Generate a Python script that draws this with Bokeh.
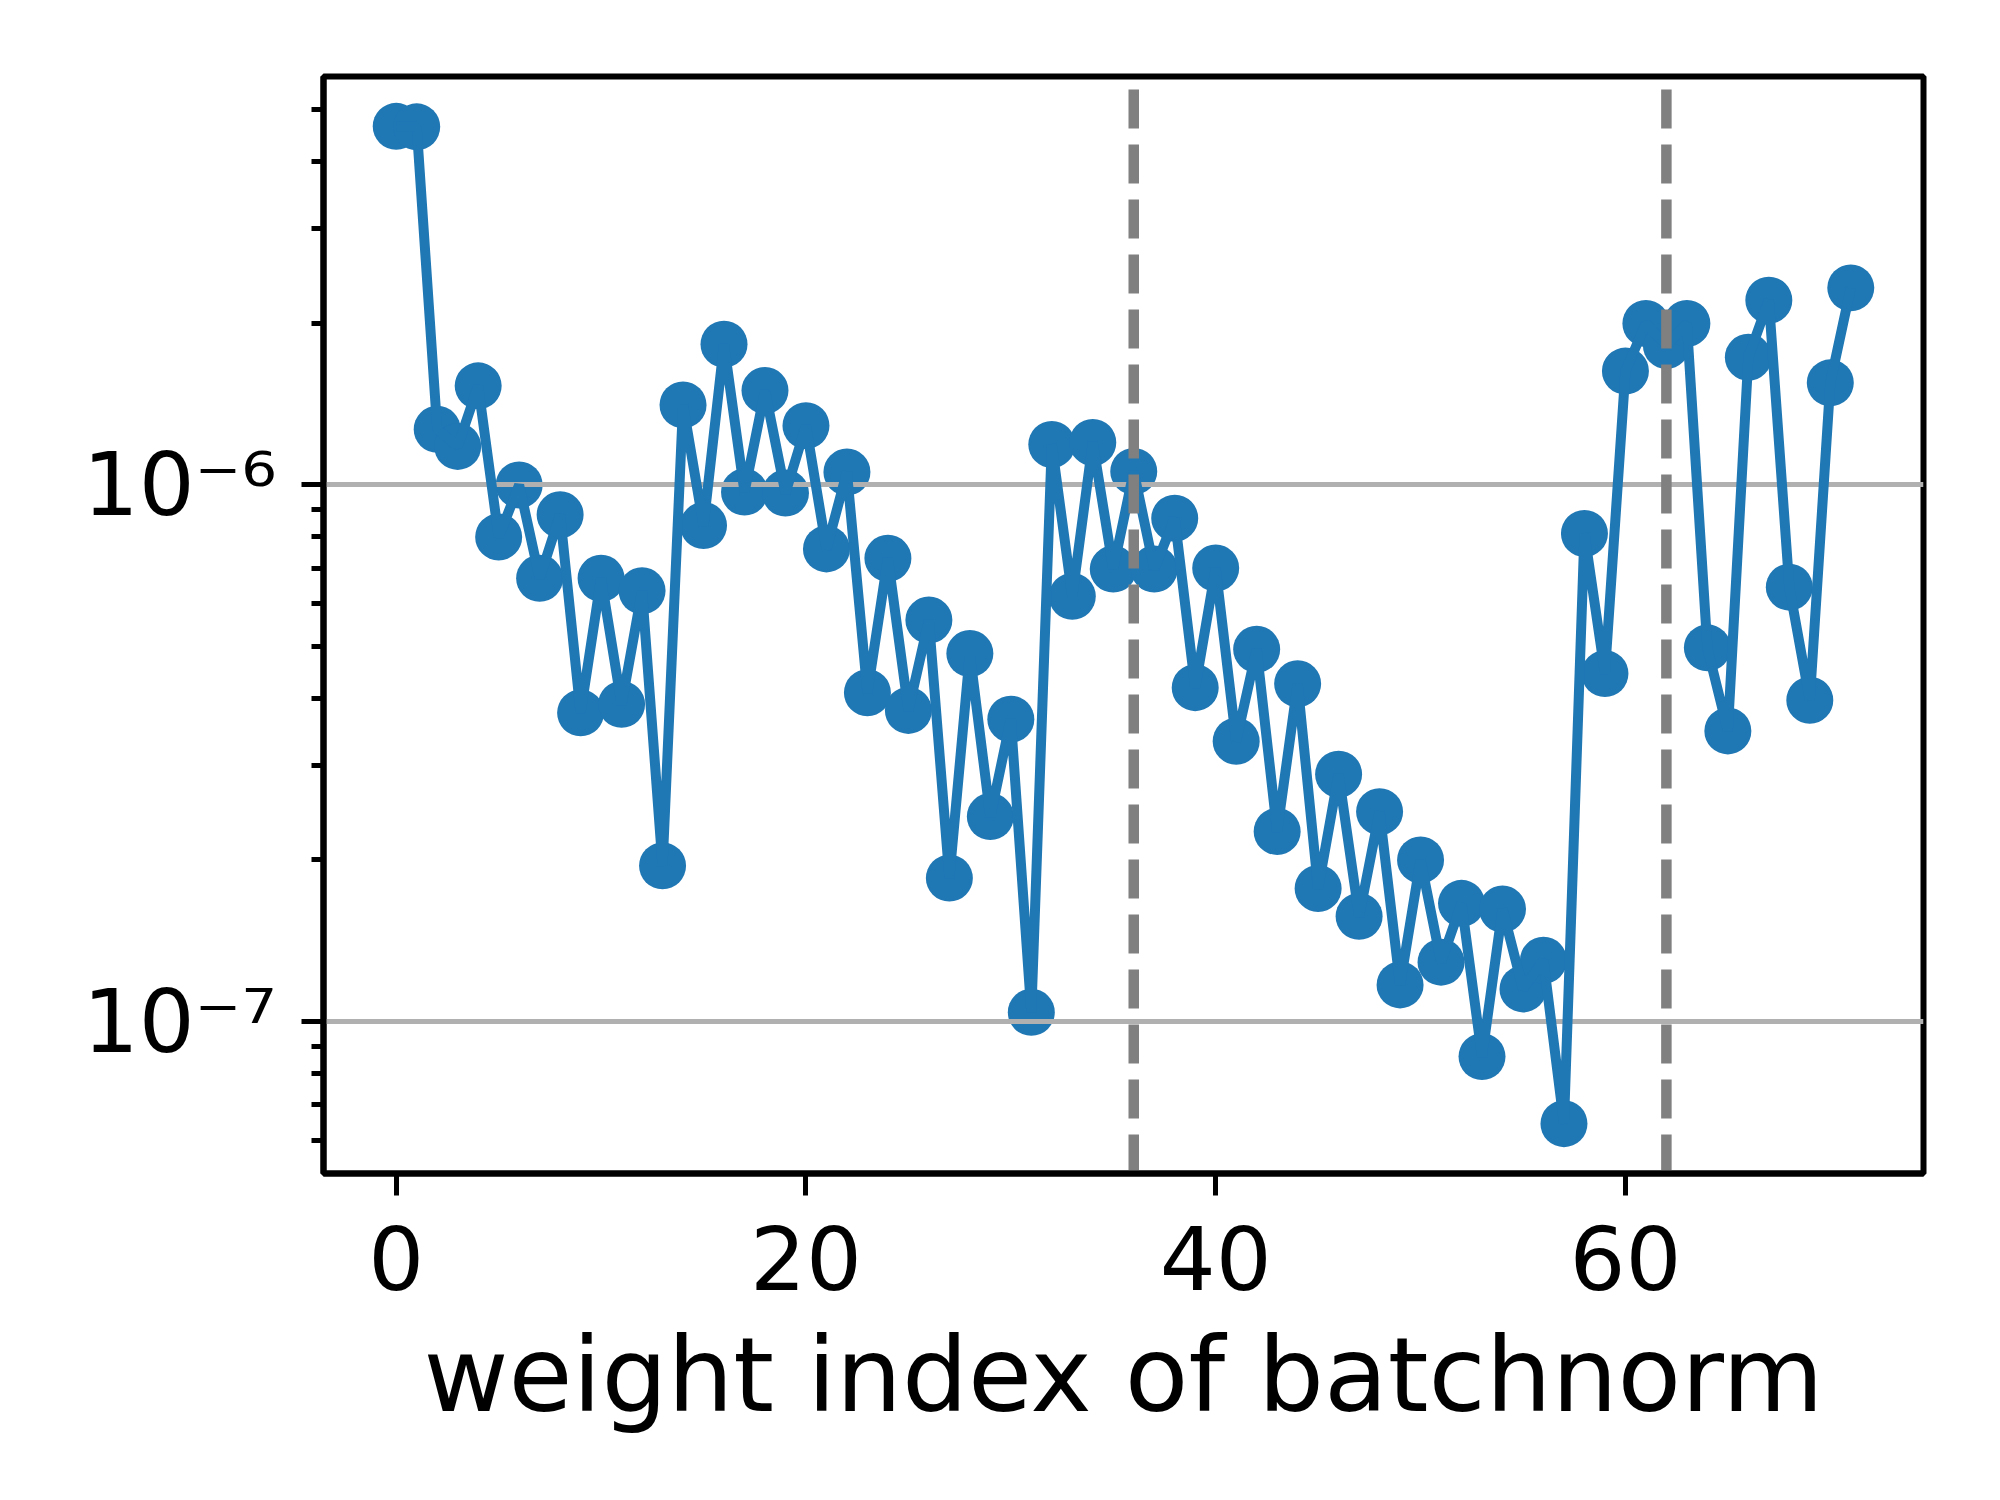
import numpy as np
from bokeh.plotting import figure
from bokeh.models import FixedTicker, Range1d, CustomJSTickFormatter
from bokeh.embed import file_html
from bokeh.resources import INLINE

# ---- data ----
weight_index = list(range(72))
values = [
    4.66e-6, 4.65e-6, 1.27e-6, 1.18e-6, 1.53e-6, 8.0e-7, 1.0e-6, 6.7e-7, 8.8e-7, 3.76e-7,
    6.7e-7, 3.9e-7, 6.35e-7, 1.95e-7, 1.41e-6, 8.4e-7, 1.83e-6, 9.7e-7, 1.50e-6, 9.66e-7,
    1.29e-6, 7.6e-7, 1.057e-6, 4.1e-7, 7.3e-7, 3.8e-7, 5.6e-7, 1.85e-7, 4.85e-7, 2.41e-7,
    3.66e-7, 1.04e-7, 1.19e-6, 6.2e-7, 1.2e-6, 6.97e-7, 1.06e-6, 6.97e-7, 8.67e-7, 4.19e-7,
    7.0e-7, 3.33e-7, 4.94e-7, 2.26e-7, 4.26e-7, 1.77e-7, 2.89e-7, 1.57e-7, 2.46e-7, 1.17e-7,
    2.0e-7, 1.29e-7, 1.66e-7, 8.6e-8, 1.62e-7, 1.15e-7, 1.30e-7, 6.45e-8, 8.12e-7, 4.45e-7,
    1.63e-6, 2.0e-6, 1.82e-6, 2.0e-6, 4.97e-7, 3.48e-7, 1.73e-6, 2.21e-6, 6.45e-7, 3.97e-7,
    1.55e-6, 2.33e-6,
]
boundaries = [36, 62]
x_ticks = [0, 20, 40, 60]
y_major = [1e-7, 1e-6]
x_label = "weight index of batchnorm"

BLUE = "#1f77b4"
FONT = "DejaVu Sans"

# ranges (matplotlib-like 5% margins)
xmin, xmax = min(weight_index), max(weight_index)
xm = 0.05 * (xmax - xmin)
x_lo, x_hi = xmin - xm, xmax + xm
lv = np.log10(values)
lmin, lmax = lv.min(), lv.max()
lm = 0.05 * (lmax - lmin)
y_lo, y_hi = 10 ** (lmin - lm), 10 ** (lmax + lm)

p = figure(
    width=1984, height=1484,
    y_axis_type="log",
    x_range=Range1d(x_lo, x_hi),
    y_range=Range1d(y_lo, y_hi),
    output_backend="svg", toolbar_location=None,
    min_border_left=323, min_border_right=61, min_border_top=76, min_border_bottom=311,
)
p.background_fill_color = "white"
p.border_fill_color = "white"
p.outline_line_color = "black"
p.outline_line_width = 6
p.xgrid.visible = False
p.ygrid.visible = False

# minor ticks for log axis
minor = []
for e in range(-9, -4):
    for m in range(2, 10):
        minor.append(m * 10.0 ** e)

p.yaxis.ticker = FixedTicker(ticks=y_major, minor_ticks=minor)
p.yaxis.formatter = CustomJSTickFormatter(code="""
const sup = {"-": "\\u207b", "0": "\\u2070", "1": "\\u00b9", "2": "\\u00b2", "3": "\\u00b3",
             "4": "\\u2074", "5": "\\u2075", "6": "\\u2076", "7": "\\u2077", "8": "\\u2078",
             "9": "\\u2079"};
const e = Math.round(Math.log10(tick));
return "10" + String(e).split("").map(c => sup[c]).join("");
""")
p.xaxis.ticker = FixedTicker(ticks=x_ticks)

for ax in (p.xaxis[0], p.yaxis[0]):
    ax.axis_line_width = 6
    ax.axis_line_color = "black"
    ax.major_tick_line_width = 5
    ax.minor_tick_line_width = 5
    ax.major_tick_out = 22
    ax.major_tick_in = 0
    ax.minor_tick_out = 12
    ax.minor_tick_in = 0
    ax.major_label_text_font = FONT
    ax.major_label_text_font_size = "88px"
    ax.major_label_text_color = "black"

p.xaxis.minor_tick_line_color = None
p.xaxis.major_label_standoff = 30
p.yaxis.major_label_standoff = 25
p.xaxis.axis_label = x_label
p.xaxis.axis_label_text_font = FONT
p.xaxis.axis_label_text_font_size = "104px"
p.xaxis.axis_label_text_font_style = "normal"
p.xaxis.axis_label_text_color = "black"
p.xaxis.axis_label_standoff = 21

# markers, then gray reference lines, then connecting line
p.scatter(weight_index, values, size=47, fill_color=BLUE, line_color=BLUE, line_width=0)
p.hspan(y=y_major, line_color="#b0b0b0", line_width=5)
p.line(weight_index, values, line_color=BLUE, line_width=10)

# dashed boundaries, drawn bottom to top like matplotlib's axvline
p.segment(x0=boundaries, y0=[y_lo] * len(boundaries), x1=boundaries, y1=[y_hi] * len(boundaries),
          line_color="#808080", line_width=10.5, line_dash="39 16")

open("out.html", "w").write(file_html(p, INLINE))
